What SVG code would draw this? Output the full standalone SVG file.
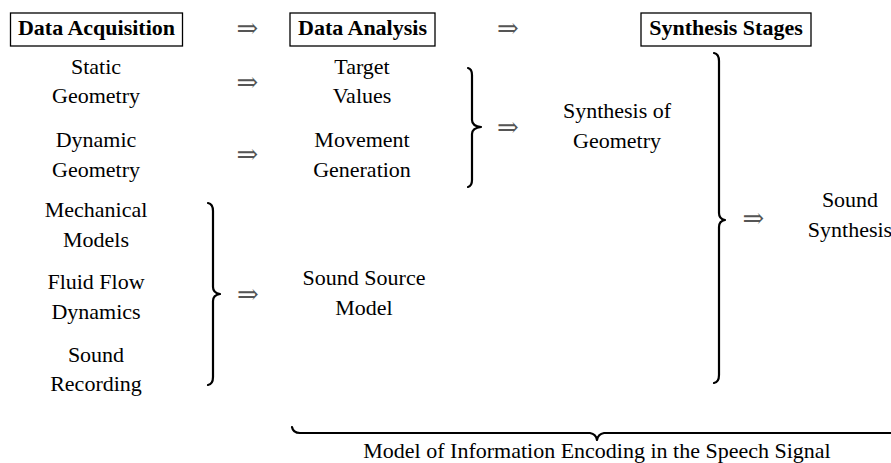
<svg xmlns="http://www.w3.org/2000/svg" width="891" height="463" viewBox="0 0 891 463">
<style>
  text { font-family: "Liberation Serif", "Times New Roman", serif; font-size: 22px; fill: #000; text-anchor: middle; }
  .hdr { font-weight: bold; }
  .box { fill: none; stroke: #000; stroke-width: 1.3; }
  .brace { fill: none; stroke: #000; stroke-width: 2.2; stroke-linecap: round; stroke-linejoin: round; }
  .arr { font-family: "DejaVu Sans", "DejaVu Serif", sans-serif; font-weight: 200; font-size: 26px; fill: #555; }
</style>
<rect width="891" height="463" fill="#fff"/>
<g id="hdr-acquisition"><rect class="box" x="10.5" y="13" width="172" height="33"/><text class="hdr" x="96.5" y="35">Data Acquisition</text></g>
<g id="hdr-analysis"><rect class="box" x="290" y="13" width="145" height="33"/><text class="hdr" x="362.5" y="35">Data Analysis</text></g>
<g id="hdr-synthesis"><rect class="box" x="641" y="13" width="170" height="33"/><text class="hdr" x="726" y="35">Synthesis Stages</text></g>

<g id="static-geometry"><text x="96" y="74">Static</text><text x="96" y="103">Geometry</text></g>
<g id="dynamic-geometry"><text x="96" y="147">Dynamic</text><text x="96" y="177">Geometry</text></g>
<g id="mechanical-models"><text x="96" y="217">Mechanical</text><text x="96" y="247">Models</text></g>
<g id="fluid-flow"><text x="96" y="289">Fluid Flow</text><text x="96" y="319">Dynamics</text></g>
<g id="sound-recording"><text x="96" y="362">Sound</text><text x="96" y="391">Recording</text></g>

<g id="target-values"><text x="362" y="74">Target</text><text x="362" y="103">Values</text></g>
<g id="movement-generation"><text x="362" y="147">Movement</text><text x="362" y="177">Generation</text></g>
<g id="sound-source"><text x="364" y="285">Sound Source</text><text x="364" y="315">Model</text></g>

<g id="synthesis-geometry"><text x="617" y="118">Synthesis of</text><text x="617" y="148">Geometry</text></g>
<g id="sound-synthesis"><text x="850" y="207">Sound</text><text x="850" y="237">Synthesis</text></g>

<g id="encoding-label"><text x="597" y="458">Model of Information Encoding in the Speech Signal</text></g>

<g id="connectors">
  <text class="arr" x="247.5" y="37">⇒</text>
  <text class="arr" x="508" y="37">⇒</text>
  <text class="arr" x="247.5" y="91">⇒</text>
  <text class="arr" x="247.5" y="163">⇒</text>
  <text class="arr" x="248" y="303">⇒</text>
  <text class="arr" x="508" y="136">⇒</text>
  <text class="arr" x="753.5" y="227">⇒</text>
  <path class="brace" d="M208,203 Q213,204 213,211 L213,287 Q213,293 220,294 Q213,295 213,301 L213,377 Q213,384 208,385"/>
  <path class="brace" d="M468,68 Q472,69 472,75 L472,120 Q472,126 481,127 Q472,128 472,134 L472,180 Q472,186 468,187"/>
  <path class="brace" d="M714,53 Q719,54 719,61 L719,213 Q719,219 725,220 Q719,221 719,227 L719,375 Q719,382 714,383"/>
  <path class="brace" d="M292,427 Q293,433 300,433 L590,433 Q596,434 597,440 Q598,434 604,433 L894,433 Q901,433 902,427"/>
</g>
</svg>
